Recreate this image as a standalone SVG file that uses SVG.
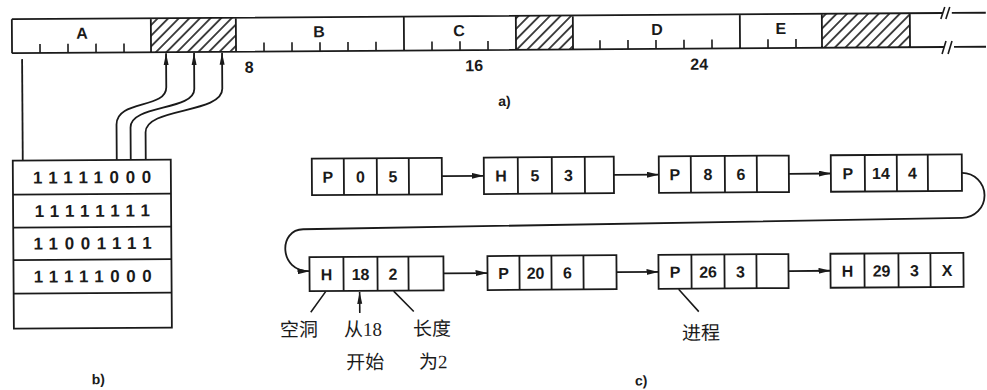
<svg xmlns="http://www.w3.org/2000/svg" width="987" height="390" viewBox="0 0 987 390">
<style>
.ln{fill:none;stroke:#1a1a1a;stroke-width:1.8}
.tk{fill:none;stroke:#1a1a1a;stroke-width:1.6}
.box{fill:#fff;stroke:#1a1a1a;stroke-width:1.8}
.t{font-family:"Liberation Sans",Arial,sans-serif;font-weight:bold;font-size:16px;fill:#1a1a1a;text-anchor:middle}
.lb{font-size:16px}
.bits{font-size:17px;letter-spacing:6.6px}
.cap{font-family:"Liberation Sans",Arial,sans-serif;font-weight:bold;font-size:14px;fill:#1a1a1a;text-anchor:middle}
.zh{font-family:"Liberation Serif","Noto Sans CJK SC",serif;font-size:19px;fill:#1a1a1a;text-anchor:middle}
</style>
<defs>
<pattern id="hatch" width="7.5" height="7.5" patternUnits="userSpaceOnUse" patternTransform="rotate(45)">
<line x1="3.75" y1="0" x2="3.75" y2="7.5" stroke="#1a1a1a" stroke-width="1.6"/>
</pattern>
<marker id="ah" markerWidth="12" markerHeight="6" refX="12" refY="3" orient="auto" markerUnits="userSpaceOnUse">
<path d="M0,0 L12,3 L0,6 z" fill="#1a1a1a"/>
</marker>
<marker id="au" markerWidth="12" markerHeight="6" refX="12" refY="3" orient="auto" markerUnits="userSpaceOnUse">
<path d="M0,0.5 L12,3 L0,5.5 z" fill="#1a1a1a"/>
</marker>
</defs>
<rect width="987" height="390" fill="#fff"/>
<g transform="rotate(-0.38 493 195)">

<g id="memory-bar">
<rect x="152" y="16" width="85" height="34" fill="url(#hatch)"/>
<rect x="517" y="16" width="57" height="34" fill="url(#hatch)"/>
<rect x="823" y="16" width="88" height="34" fill="url(#hatch)"/>
<path class="ln" d="M13,16 V50 M13,16 H944 M953,16 H987 M13,50 H945 M955,50 H987 M152,16 V50 M237,16 V50 M405,16 V50 M517,16 V50 M574,16 V50 M741,16 V50 M823,16 V50 M911,16 V50"/>
<path class="tk" d="M942,22 L946,10 M947,22 L951,10 M943,57 L947,44 M949,57 L953,44"/>
<path class="tk" d="M41,50 V41 M69,50 V41 M97,50 V41 M125,50 V41 M265,50 V41 M293,50 V41 M321,50 V41 M349,50 V41 M377,50 V41 M433,50 V41 M461,50 V41 M489,50 V41 M601,50 V41 M629,50 V41 M657,50 V41 M685,50 V41 M713,50 V41 M769,50 V41 M797,50 V41"/>
<text class="t lb" x="83" y="36">A</text>
<text class="t lb" x="320" y="36">B</text>
<text class="t lb" x="460" y="36">C</text>
<text class="t lb" x="658" y="36">D</text>
<text class="t lb" x="782" y="36">E</text>
<text class="t lb" x="250" y="71">8</text>
<text class="t lb" x="475" y="71">16</text>
<text class="t lb" x="700" y="71">24</text>
<text class="cap" x="505" y="106">a)</text>
</g>

<g id="bitmap">
<rect class="box" x="13" y="157.5" width="158" height="168"/>
<path class="ln" d="M13,191.5 H171 M13,224.5 H171 M13,257 H171 M13,290.5 H171"/>
<text class="t bits" x="95.5" y="180.5">11111000</text>
<text class="t bits" x="95.5" y="214">11111111</text>
<text class="t bits" x="95.5" y="246.5">11001111</text>
<text class="t bits" x="95.5" y="279.5">11111000</text>
<text class="cap" x="97" y="381.5">b)</text>
</g>

<g id="node-1">
<rect class="box" x="312" y="157.5" width="130" height="36.5"/>
<path class="ln" d="M344,157.5 V194 M377,157.5 V194 M409,157.5 V194"/>
<text class="t" x="328" y="181.5">P</text><text class="t" x="360.5" y="181.5">0</text><text class="t" x="393" y="181.5">5</text>
</g>
<g id="node-2">
<rect class="box" x="484" y="157.5" width="130" height="36.5"/>
<path class="ln" d="M518,157.5 V194 M552,157.5 V194 M585,157.5 V194"/>
<text class="t" x="501" y="181.5">H</text><text class="t" x="535" y="181.5">5</text><text class="t" x="568.5" y="181.5">3</text>
</g>
<g id="node-3">
<rect class="box" x="659" y="157.5" width="130" height="36.5"/>
<path class="ln" d="M691,157.5 V194 M725,157.5 V194 M757,157.5 V194"/>
<text class="t" x="675" y="181.5">P</text><text class="t" x="708" y="181.5">8</text><text class="t" x="741" y="181.5">6</text>
</g>
<g id="node-4">
<rect class="box" x="831" y="157.5" width="131" height="36.5"/>
<path class="ln" d="M865,157.5 V194 M897,157.5 V194 M928,157.5 V194"/>
<text class="t" x="848" y="181.5">P</text><text class="t" x="881" y="181.5">14</text><text class="t" x="912.5" y="181.5">4</text>
</g>
<g id="node-5">
<rect class="box" x="309" y="256" width="134" height="34"/>
<path class="ln" d="M343,256 V290 M377,256 V290 M408,256 V290"/>
<text class="t" x="326" y="279">H</text><text class="t" x="360" y="279">18</text><text class="t" x="392.5" y="279">2</text>
</g>
<g id="node-6">
<rect class="box" x="487" y="256" width="129" height="34"/>
<path class="ln" d="M519,256 V290 M551,256 V290 M583,256 V290"/>
<text class="t" x="503" y="279">P</text><text class="t" x="535" y="279">20</text><text class="t" x="567" y="279">6</text>
</g>
<g id="node-7">
<rect class="box" x="658" y="256" width="130" height="34"/>
<path class="ln" d="M691,256 V290 M724,256 V290 M756,256 V290"/>
<text class="t" x="674.5" y="279">P</text><text class="t" x="707.5" y="279">26</text><text class="t" x="740" y="279">3</text>
</g>
<g id="node-8">
<rect class="box" x="830" y="256" width="133" height="34"/>
<path class="ln" d="M864,256 V290 M898,256 V290 M930,256 V290"/>
<text class="t" x="847" y="279">H</text><text class="t" x="881" y="279">29</text><text class="t" x="914" y="279">3</text><text class="t" x="946.5" y="279">X</text>
</g>

<g id="connectors">
<path class="ln" d="M23,56 V157.5"/>
<path class="ln" marker-end="url(#au)" d="M117,157.5 V122 C117,97 167,107 167,85 V51"/>
<path class="ln" marker-end="url(#au)" d="M131,157.5 V125 C131,102 195,109 195,87 V51"/>
<path class="ln" marker-end="url(#au)" d="M146,157.5 V130 C146,105 223,112 223,87 V51"/>
<path class="ln" marker-end="url(#ah)" d="M442,175.75 H484"/>
<path class="ln" marker-end="url(#ah)" d="M614,175.75 H659"/>
<path class="ln" marker-end="url(#ah)" d="M789,175.75 H831"/>
<path class="ln" marker-end="url(#ah)" d="M962,176 A22.5,22.5 0 0 1 962,221 L303,228 C278,228 278,270 309,270"/>
<path class="ln" marker-end="url(#ah)" d="M443,273 H487"/>
<path class="ln" marker-end="url(#ah)" d="M616,273 H658"/>
<path class="ln" marker-end="url(#ah)" d="M788,273 H830"/>
</g>

<g id="annotations">
<path class="tk" d="M325,290.5 L310,311 M393,290.5 L413,311 M678,290.5 L698,313"/>
<path class="tk" marker-end="url(#au)" d="M359,312 V291"/>
<text class="zh" x="298" y="335">空洞</text>
<text class="zh" x="362" y="335">从18</text>
<text class="zh" x="364" y="368">开始</text>
<text class="zh" x="431" y="335">长度</text>
<text class="zh" x="432" y="368">为2</text>
<text class="zh" x="700" y="341">进程</text>
<text class="cap" x="640" y="386.5">c)</text>
</g>

</g>
</svg>
